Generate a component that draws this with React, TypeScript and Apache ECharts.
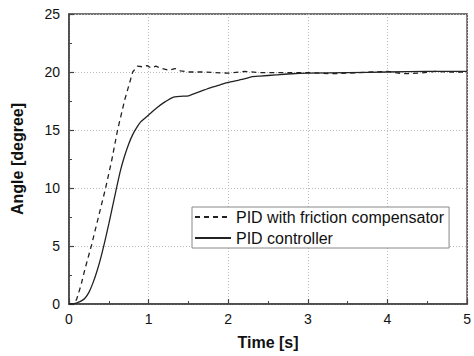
import React, { useEffect, useRef } from "react";
import * as echarts from "echarts";

const timeComp = [0, 0.07, 0.1, 0.15, 0.2, 0.28, 0.37, 0.46, 0.54, 0.61, 0.7, 0.8, 0.86, 0.92, 0.98, 1.03, 1.09, 1.17, 1.26, 1.33, 1.4, 1.5, 1.7, 2.0, 2.2, 2.4, 2.7, 3.0, 3.3, 3.5, 3.8, 4.0, 4.2, 4.4, 4.6, 4.8, 5.0];
const angleComp = [0, 0, 0.5, 1.6, 3.0, 5.0, 7.5, 10, 12.5, 15, 17.6, 20, 20.5, 20.45, 20.55, 20.35, 20.5, 20.3, 20.15, 20.3, 20.1, 20.0, 20.0, 19.9, 20.05, 19.95, 19.95, 19.95, 19.85, 19.9, 20.0, 20.05, 19.85, 19.9, 20.05, 20.0, 20.0];

const timePid = [0, 0.05, 0.1, 0.15, 0.2, 0.25, 0.3, 0.35, 0.4, 0.45, 0.5, 0.55, 0.6, 0.65, 0.7, 0.75, 0.8, 0.85, 0.9, 0.95, 1.0, 1.1, 1.2, 1.3, 1.4, 1.5, 1.6, 1.7, 1.8, 1.9, 2.0, 2.1, 2.2, 2.3, 2.4, 2.6, 2.8, 3.0, 3.5, 4.0, 4.5, 5.0];
const anglePid = [0, 0, 0.1, 0.25, 0.5, 1.0, 1.8, 2.8, 4.0, 5.4, 6.9, 8.5, 10.1, 11.6, 12.8, 13.8, 14.6, 15.2, 15.7, 16.0, 16.3, 16.9, 17.4, 17.8, 17.9, 17.95, 18.2, 18.45, 18.7, 18.9, 19.1, 19.25, 19.4, 19.6, 19.65, 19.75, 19.85, 19.9, 19.95, 20.0, 20.05, 20.05];

const seriesNames = ["PID with friction compensator", "PID controller"];
const xTitle = "Time [s]";
const yTitle = "Angle [degree]";

const FONT = "'Liberation Sans', Arial, sans-serif";

export default function App() {
  const ref = useRef<HTMLDivElement>(null);
  useEffect(() => {
    if (!ref.current) return;
    const chart = echarts.init(ref.current, null, { renderer: "svg" });
    const axisCommon = {
      axisLine: { show: true, lineStyle: { color: "#444", width: 1.5 } },
      axisTick: { show: true, inside: true, length: 5, lineStyle: { color: "#444", width: 1.2 } },
      minorTick: { show: true, splitNumber: 2, length: 3, lineStyle: { color: "#444", width: 1 } },
      splitLine: { show: true, lineStyle: { color: "#bbb", type: [1, 2], width: 1 } },
      axisLabel: { color: "#111", fontSize: 14, fontFamily: FONT },
      nameTextStyle: { color: "#111", fontSize: 16, fontWeight: "bold", fontFamily: FONT },
      nameLocation: "middle" as const,
    };
    chart.setOption({
      animation: false,
      backgroundColor: "#fff",
      grid: { left: 69, right: 3, top: 14, bottom: 52, show: true, borderColor: "#444", borderWidth: 1.5 },
      xAxis: {
        type: "value", min: 0, max: 5, interval: 1, name: xTitle, nameGap: 30,
        ...axisCommon,
        axisLabel: { ...axisCommon.axisLabel, margin: 8 },
      },
      yAxis: {
        type: "value", min: 0, max: 25, interval: 5, name: yTitle, nameGap: 44,
        ...axisCommon,
        axisLabel: { ...axisCommon.axisLabel, margin: 9 },
      },
      legend: {
        orient: "vertical", left: 192, top: 207,
        padding: [2, 5, 2, 2], itemGap: 5, itemWidth: 36, itemHeight: 14,
        borderColor: "#888", borderWidth: 1, backgroundColor: "#fff",
        itemStyle: { color: "transparent", borderWidth: 0 },
        textStyle: { fontSize: 16, color: "#111", fontFamily: FONT },
        data: seriesNames,
      },
      series: [
        {
          name: seriesNames[0], type: "line", symbol: "none",
          data: timeComp.map((t, i) => [t, angleComp[i]]),
          lineStyle: { color: "#222", width: 1.3, type: [5, 4] },
          itemStyle: { color: "#222" },
        },
        {
          name: seriesNames[1], type: "line", symbol: "none", smooth: 0.2,
          data: timePid.map((t, i) => [t, anglePid[i]]),
          lineStyle: { color: "#222", width: 1.3, type: "solid" },
          itemStyle: { color: "#222" },
        },
      ],
    });
    return () => chart.dispose();
  }, []);
  return <div ref={ref} style={{ width: 474, height: 356, position: "absolute", left: 0, top: 0 }} />;
}
